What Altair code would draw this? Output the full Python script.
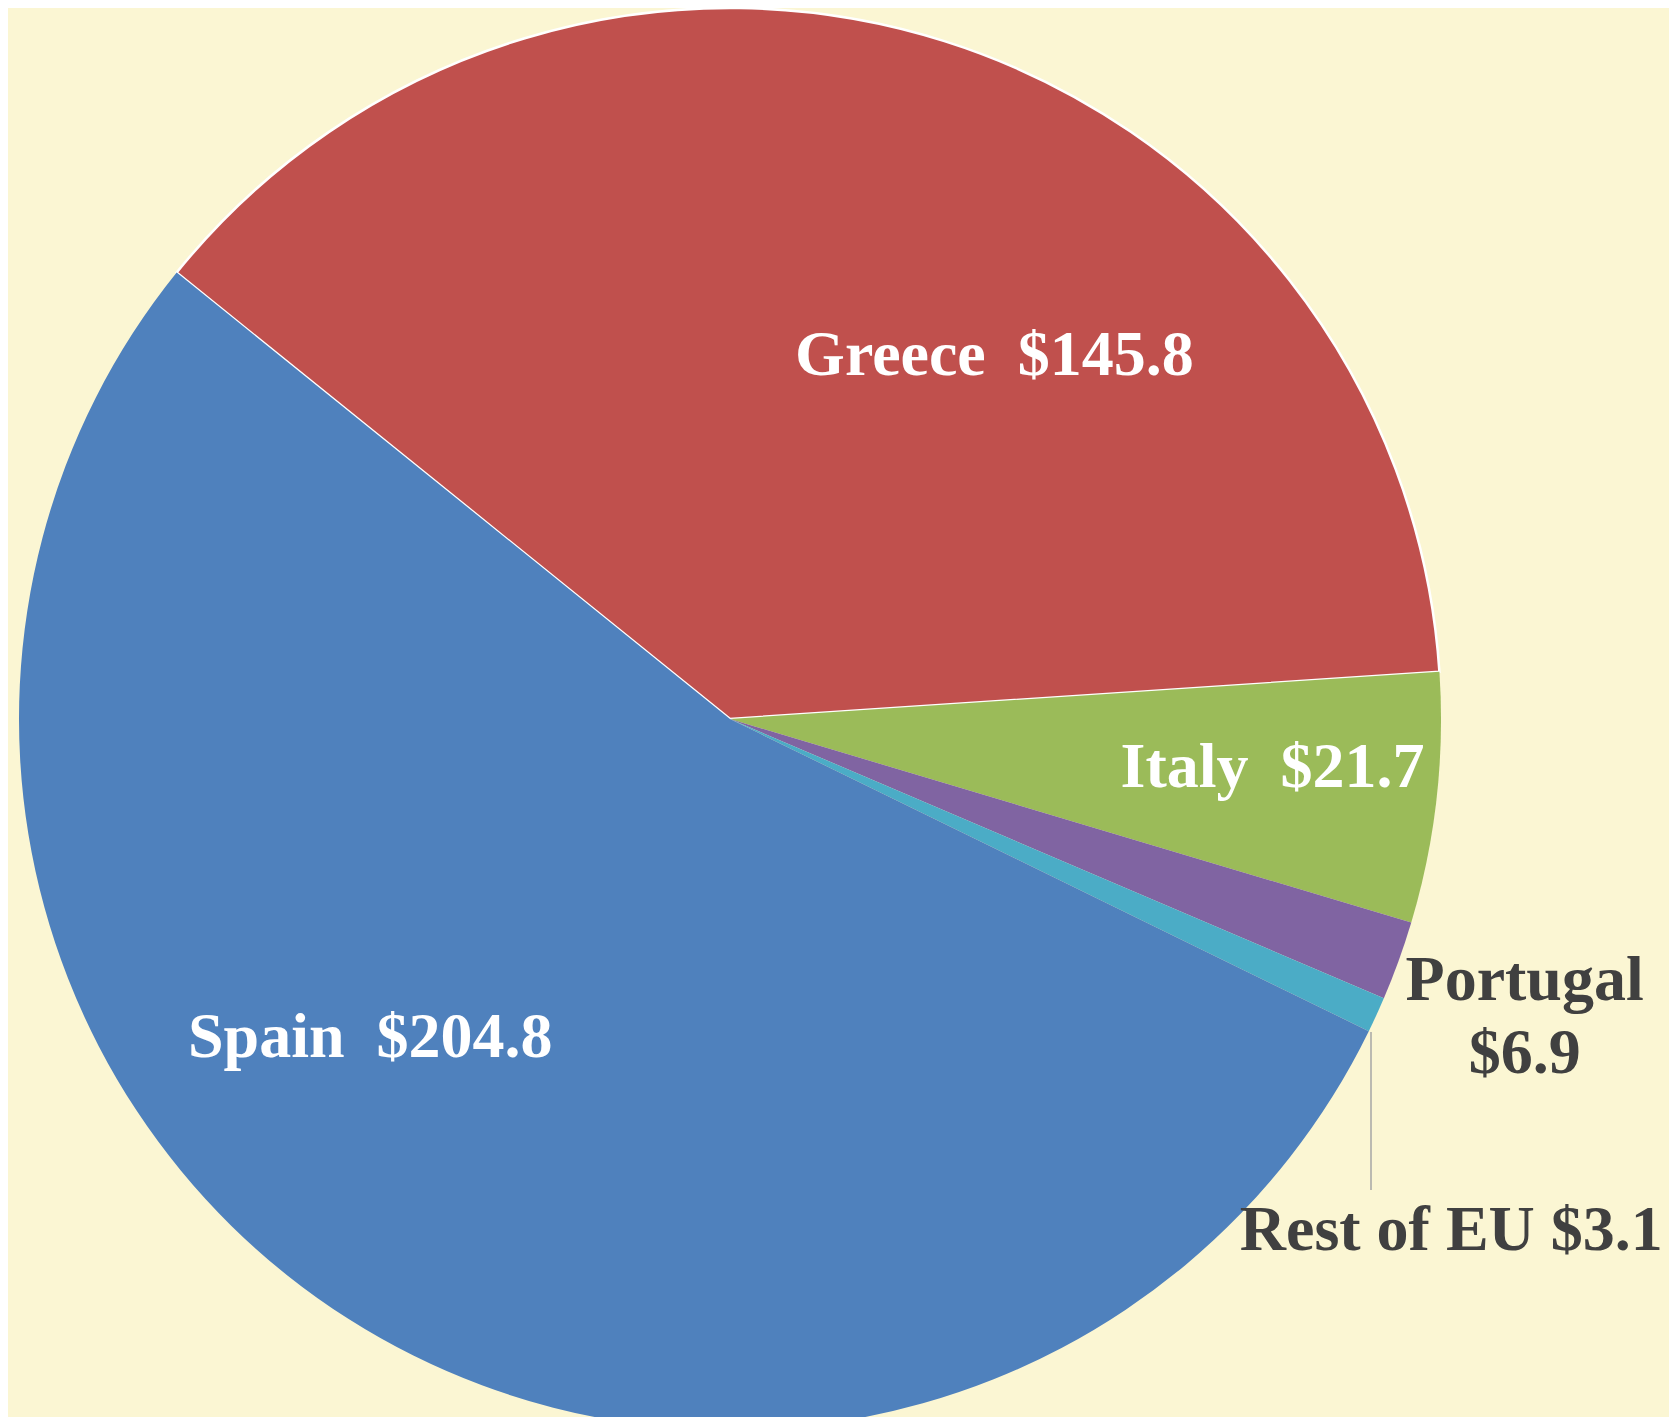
import math
import altair as alt
import pandas as pd

# ---- data ----
countries = ["Greece", "Italy", "Portugal", "Rest of EU", "Spain"]
values = [145.8, 21.7, 6.9, 3.1, 204.8]
labels = ["Greece \u00a0$145.8", "Italy \u00a0$21.7", "Portugal\n$6.9", "Rest of EU $3.1", "Spain \u00a0$204.8"]
colors = ["#C0504D", "#9BBB59", "#8064A2", "#4BACC6", "#4F81BD"]

df = pd.DataFrame({
    "country": countries,
    "value": values,
    "label": labels,
    "idx": list(range(len(countries))),
})

BG = "#FBF6D3"
CX, CY, R = 722, 711, 711
start = math.radians(-51.1)
theta_scale = alt.Scale(range=[start, start + 2 * math.pi])

base = alt.Chart(df).encode(
    theta=alt.Theta("value:Q", stack=True, scale=theta_scale),
    order=alt.Order("idx:Q", sort="ascending"),
    x=alt.value(CX),
    y=alt.value(CY),
)

arcs = base.mark_arc(radius=R, stroke="white").encode(
    color=alt.Color("country:N", scale=alt.Scale(domain=countries, range=colors), legend=None),
    strokeWidth=alt.condition(alt.datum.country == "Greece", alt.value(2.5), alt.value(0)),
)

FONT = "Liberation Serif"


def label_layer(name, radius, dx, dy, color):
    return base.mark_text(
        radius=radius, dx=dx, dy=dy, font=FONT, fontSize=64, fontWeight="bold",
        color=color, align="center", baseline="alphabetic", lineBreak="\n", lineHeight=73,
    ).encode(
        text=alt.condition(alt.datum.country == name, alt.Text("label:N"), alt.value(""))
    )


greece_t = label_layer("Greece", 434, 133.6, 69.8, "white")
italy_t = label_layer("Italy", 548, -2, 6.7, "white")
spain_t = label_layer("Spain", 493, -95, -77.8, "white")
portugal_t = label_layer("Portugal", 845, 0, -6.3, "#404040")
rest_t = label_layer("Rest of EU", 896.6, -94, 157.9, "#404040")

leader = alt.Chart(df).transform_filter(alt.datum.country == "Rest of EU").mark_rule(
    color="#A6A6A6", strokeWidth=1.5
).encode(
    x=alt.value(1363), y=alt.value(1024), y2=alt.value(1182)
)

chart = alt.layer(arcs, leader, greece_t, italy_t, spain_t, portugal_t, rest_t).properties(
    width=1661, height=1409, background=BG, padding=0,
    autosize=alt.AutoSizeParams(type="none"),
).configure_view(stroke=None)

chart.save("out.html", embed_options={"renderer": "svg", "actions": False})
